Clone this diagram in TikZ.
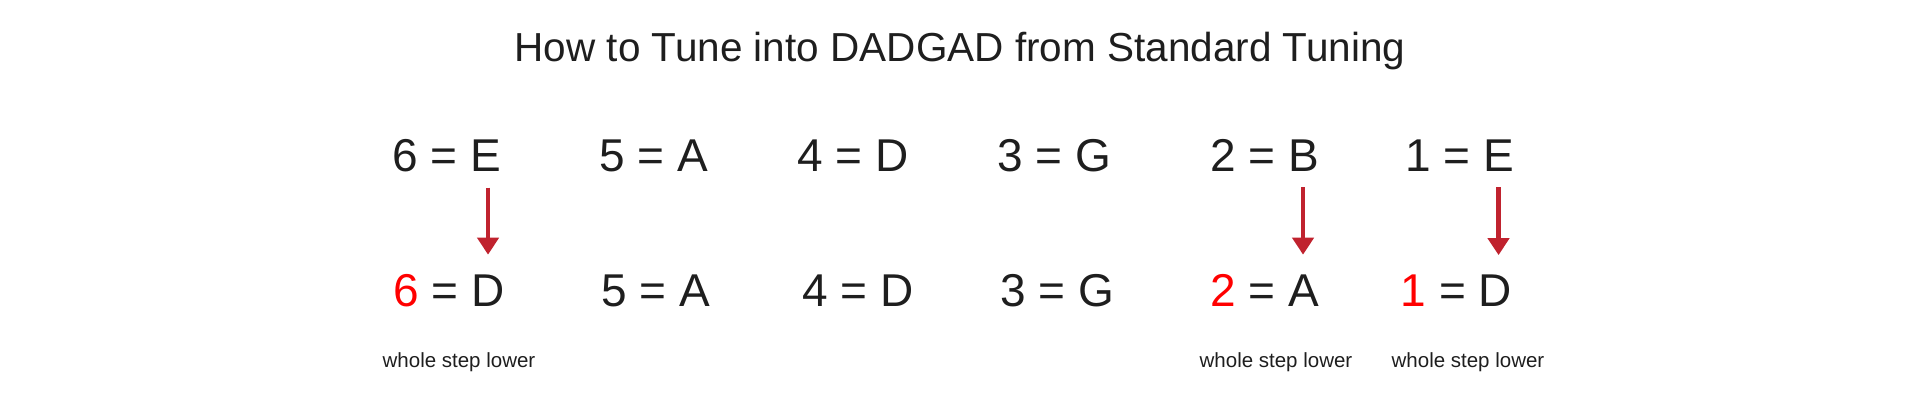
\documentclass[tikz,border=0pt]{standalone}
\usepackage{fontspec}
\setmainfont{Liberation Sans}
\usetikzlibrary{arrows.meta}
\definecolor{inkgray}{HTML}{1E1E1E}
\definecolor{lowerred}{HTML}{FF0000}
\definecolor{arrowred}{HTML}{C0222E}

\begin{document}
\begin{tikzpicture}[x=1pt,y=-1pt,
        every node/.style={inner sep=0pt,anchor=base,text=inkgray},
        string/.style={font=\fontsize{46}{46}\selectfont},
        note/.style={font=\fontsize{20.5}{20.5}\selectfont},
        tunearrow/.style={draw=arrowred,line width=4.3pt,-{Triangle[width=21pt,length=17pt]},shorten <=16pt,shorten >=19pt}]
        \path[use as bounding box] (0,0) rectangle (1920,407);

        \node[font=\fontsize{40.5}{40.5}\selectfont] (title) at (960,61) {How to Tune into DADGAD from Standard Tuning};

        % standard tuning
        \node[string] (6a) at (446.5,171) {6 = E};
        \node[string] (5a) at (654,171) {5 = A};
        \node[string] (4a) at (853,171) {4 = D};
        \node[string] (3a) at (1054.5,171) {3 = G};
        \node[string] (2a) at (1264.5,171) {2 = B};
        \node[string] (1a) at (1460,171) {1 = E};

        % DADGAD
        \node[string] (6b) at (449,306) {\textcolor{lowerred}{6} = D};
        \node[string] (5b) at (656,306) {5 = A};
        \node[string] (4b) at (858,306) {4 = D};
        \node[string] (3b) at (1057,306) {3 = G};
        \node[string] (2b) at (1264.5,306) {\textcolor{lowerred}{2} = A};
        \node[string] (1b) at (1456.5,306) {\textcolor{lowerred}{1} = D};

        \path[tunearrow] ([xshift=-13pt]6a.south east) -- ([xshift=-13pt]6a.south east |- 6b.north);
        \path[tunearrow] ([xshift=-16pt]2a.south east) -- ([xshift=-16pt]2a.south east |- 2b.north);
        \path[tunearrow] ([xshift=-16pt]1a.south east) -- ([xshift=-16pt]1a.south east |- 1b.north);

        \node[note] (6c) at (459,367) {whole step lower};
        \node[note] (2c) at (1276,367) {whole step lower};
        \node[note] (1c) at (1468,367) {whole step lower};
    \end{tikzpicture}
\end{document}
